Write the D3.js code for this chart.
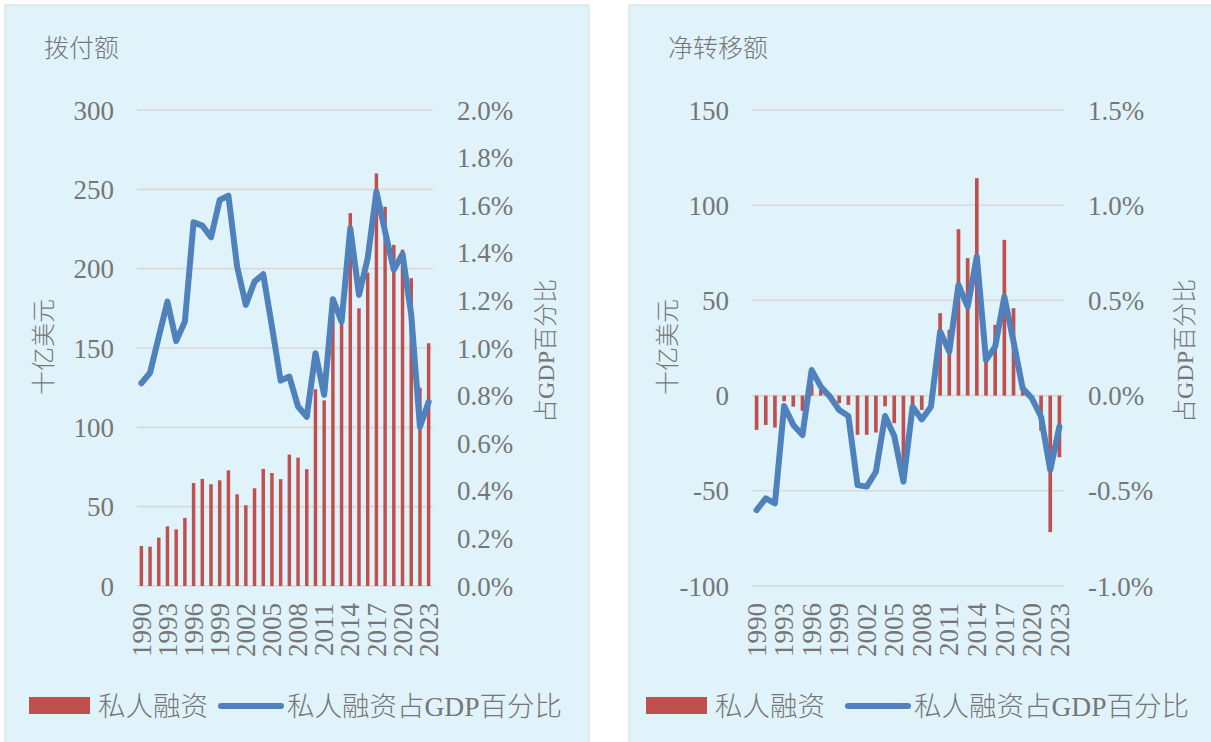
<!DOCTYPE html>
<html>
<head>
<meta charset="utf-8">
<script src="https://cdn.jsdelivr.net/npm/d3@7"></script>
<style>
  html, body { margin: 0; padding: 0; background: #ffffff; }
  svg text { font-family: "Liberation Serif", "Noto Sans CJK SC", serif; fill: #767676; }
</style>
</head>
<body>
<svg id="chart" width="1211" height="742"></svg>
<script>
// ---------------- DATA ----------------
const years = d3.range(1990, 2024);
const yearTicks = [1990, 1993, 1996, 1999, 2002, 2005, 2008, 2011, 2014, 2017, 2020, 2023];

// 拨付额 (disbursements), billion USD
const disbursements = [25.2, 24.8, 30.5, 37.6, 35.7, 42.9, 64.9, 67.5, 64.1, 66.6,
                       72.9, 57.8, 50.9, 61.6, 73.8, 71.2, 67.3, 82.8, 80.9, 73.6,
                       124, 117, 170, 167, 235, 175, 197.5, 260, 239, 215,
                       212, 194, 125, 153];
// 拨付额 占GDP百分比 (%)
const disbursementsPct = [0.852, 0.896, 1.047, 1.195, 1.029, 1.111, 1.528, 1.514, 1.465, 1.622,
                          1.640, 1.342, 1.181, 1.279, 1.310, 1.090, 0.863, 0.880, 0.754, 0.711,
                          0.978, 0.803, 1.205, 1.111, 1.503, 1.223, 1.377, 1.657, 1.489, 1.328,
                          1.395, 1.139, 0.669, 0.774];

// 净转移额 (net transfers), billion USD
const netTransfers = [-18.0, -15.4, -16.8, -3.0, -5.8, -8.0, 6.0, 3.0, 1.0, -4.0,
                      -4.9, -20.6, -20.6, -19.4, -5.6, -14.5, -38.0, -4.9, -7.5, -2.0,
                      43.3, 34.5, 87.4, 72.2, 114.2, 22.0, 37.1, 81.8, 45.9, 3.0,
                      -1.0, -18.5, -71.7, -32.4];
// 净转移额 占GDP百分比 (%)
const netTransfersPct = [-0.601, -0.540, -0.566, -0.055, -0.154, -0.207, 0.134, 0.047, -0.006, -0.076,
                         -0.107, -0.470, -0.478, -0.400, -0.107, -0.212, -0.452, -0.058, -0.125, -0.058,
                         0.336, 0.231, 0.581, 0.467, 0.730, 0.187, 0.257, 0.519, 0.283, 0.038,
                         -0.014, -0.111, -0.391, -0.163];

const leftTicksA = [0, 50, 100, 150, 200, 250, 300];
const rightTicksA = [0, 0.2, 0.4, 0.6, 0.8, 1.0, 1.2, 1.4, 1.6, 1.8, 2.0];
const leftTicksB = [-100, -50, 0, 50, 100, 150];
const rightTicksB = [-1.0, -0.5, 0, 0.5, 1.0, 1.5];

const barLabel = "私人融资";
const lineLabel = "私人融资占GDP百分比";
const yTitleLeft = "十亿美元";
const yTitleRight = "占GDP百分比";

// ---------------- DRAW ----------------
const svg = d3.select("#chart");
const BAR = "#C0504D", LINE = "#4F81BD", GRID = "#D9D9D9", BG = "#E0F3FA";

function drawPanel(cfg) {
  const g = svg.append("g");
  g.append("rect")
    .attr("x", cfg.px).attr("y", 5).attr("width", cfg.pw).attr("height", 745)
    .attr("fill", BG).attr("stroke", "#D6DCE0").attr("stroke-width", 1);

  g.append("text").text(cfg.title)
    .attr("x", cfg.px + 39).attr("y", 57)
    .style("font-size", "25px").style("font-weight", 300);

  const x = d3.scaleBand().domain(years).range([cfg.x0, cfg.x1])
    .paddingInner(0.6).paddingOuter(0.3);
  const y = d3.scaleLinear().domain(cfg.yDom).range([586, 110]);
  const y2 = d3.scaleLinear().domain(cfg.y2Dom).range([586, 110]);

  // gridlines
  g.append("g").selectAll("line").data(cfg.leftTicks).join("line")
    .attr("x1", cfg.x0).attr("x2", cfg.x1)
    .attr("y1", d => y(d)).attr("y2", d => y(d))
    .attr("stroke", GRID).attr("stroke-width", 1.6);

  // left axis
  const axL = g.append("g").attr("transform", `translate(${cfg.x0 - 23},0)`)
    .call(d3.axisLeft(y).tickValues(cfg.leftTicks).tickSize(0).tickPadding(0)
      .tickFormat(d => String(d)));
  axL.select(".domain").remove();
  axL.selectAll("text").style("font-size", "27px").attr("fill", "#767676")
    .attr("font-family", null).attr("dy", "0.34em");

  // right axis
  const axR = g.append("g").attr("transform", `translate(${cfg.x1 + 24},0)`)
    .call(d3.axisRight(y2).tickValues(cfg.rightTicks).tickSize(0).tickPadding(0)
      .tickFormat(d => (d).toFixed(1) + "%"));
  axR.select(".domain").remove();
  axR.selectAll("text").style("font-size", "27px").attr("fill", "#767676")
    .attr("font-family", null).attr("dy", "0.34em");

  // x axis labels
  const axX = g.append("g").attr("transform", `translate(0,${603})`)
    .call(d3.axisBottom(x).tickValues(yearTicks).tickSize(0).tickPadding(0));
  axX.select(".domain").remove();
  axX.selectAll("text").style("font-size", "27px").attr("fill", "#767676")
    .attr("font-family", null)
    .attr("text-anchor", "end").attr("transform", "rotate(-90)")
    .attr("x", 0).attr("y", 0).attr("dy", "0.34em");

  // bars
  g.append("g").selectAll("rect").data(cfg.bars).join("rect")
    .attr("x", (d, i) => x(years[i]))
    .attr("width", x.bandwidth())
    .attr("y", d => Math.min(y(d), y(0)))
    .attr("height", d => Math.abs(y(d) - y(0)))
    .attr("fill", BAR);

  // line
  const line = d3.line()
    .x((d, i) => x(years[i]) + x.bandwidth() / 2)
    .y(d => y2(d));
  g.append("path").datum(cfg.pct)
    .attr("d", line).attr("fill", "none").attr("stroke", LINE)
    .attr("stroke-width", 6).attr("stroke-linejoin", "round").attr("stroke-linecap", "round");

  // axis titles
  g.append("text").text(yTitleLeft)
    .attr("transform", `translate(${cfg.px + 39},347) rotate(-90)`)
    .attr("text-anchor", "middle").attr("dy", "0.35em")
    .style("font-size", "24px").style("font-weight", 300);
  g.append("text").text(yTitleRight)
    .attr("transform", `translate(${cfg.titleR},351) rotate(-90)`)
    .attr("text-anchor", "middle").attr("dy", "0.35em")
    .style("font-size", "24px").style("font-weight", 300);

  // legend
  const lg = g.append("g").attr("transform", `translate(${cfg.lgX},706)`);
  lg.append("rect").attr("x", 0).attr("y", -9).attr("width", 61).attr("height", 17).attr("fill", BAR);
  lg.append("text").text(barLabel).attr("x", 69).attr("dy", "0.36em")
    .style("font-size", "27.5px").style("font-weight", 300);
  lg.append("line").attr("x1", cfg.lgLine).attr("x2", cfg.lgLine + 60).attr("y1", 0).attr("y2", 0)
    .attr("stroke", LINE).attr("stroke-width", 6).attr("stroke-linecap", "round");
  lg.append("text").text(lineLabel).attr("x", cfg.lgLine + 66).attr("dy", "0.36em")
    .style("font-size", "27.5px").style("font-weight", 300);
}

drawPanel({
  px: 5, pw: 584, title: "拨付额", x0: 137, x1: 433,
  yDom: [0, 300], y2Dom: [0, 2.0],
  leftTicks: leftTicksA, rightTicks: rightTicksA,
  bars: disbursements, pct: disbursementsPct, lgX: 29, lgLine: 192, titleR: 546
});
drawPanel({
  px: 629, pw: 590, title: "净转移额", x0: 752, x1: 1064,
  yDom: [-100, 150], y2Dom: [-1.0, 1.5],
  leftTicks: leftTicksB, rightTicks: rightTicksB,
  bars: netTransfers, pct: netTransfersPct, lgX: 646, lgLine: 202, titleR: 1185
});
</script>
</body>
</html>
